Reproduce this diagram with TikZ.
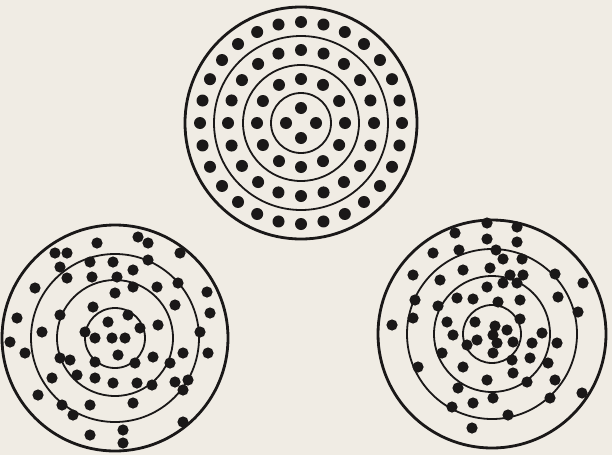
\documentclass[tikz,border=0pt]{standalone}
\usepackage{xcolor}
\usepackage{tikz}
\definecolor{paper}{HTML}{F0ECE4}
\definecolor{ink}{HTML}{1A1818}

\begin{document}
\begin{tikzpicture}[x=1pt, y=-1pt,
    ring/.style={draw=ink, line width=1.8pt},
    rim/.style={draw=ink, line width=2.8pt},
    hit/.style={fill=ink}]
    \fill[paper] (0,0) rectangle (612,455);

    % regular pattern
    \coordinate (top) at (301,123);
    \foreach \r in {30,58,87}
      \draw[ring] (top) circle (\r pt);
    \draw[rim] (top) circle (116pt);
    \foreach \n/\d in {4/15, 12/44, 20/73, 28/101}
      \foreach \i in {1,...,\n}
        \fill[hit, shift={(top)}] (90+\i*360/\n:\d) circle (6pt);

    % scattered pattern, left
    \coordinate (left) at (115,338);
    \foreach \r in {30,58,84}
      \draw[ring] (left) circle (\r pt);
    \draw[rim] (left) circle (113pt);
    \foreach \x/\y in {97/243, 138/237, 148/243, 180/253, 55/253, 67/253, 60/267,
        67/278, 90/262, 113/262, 133/270, 148/260, 92/277, 117/277, 133/287,
        157/287, 178/283, 207/292, 115/293, 93/307, 175/305, 210/313, 35/288,
        17/318, 10/342, 25/353, 42/332, 60/315, 128/315, 108/322, 85/332,
        95/338, 112/338, 125/338, 140/328, 158/325, 200/332, 118/355, 95/362,
        135/363, 153/357, 183/353, 208/353, 170/363, 60/358, 70/360, 52/378,
        77/375, 95/378, 113/383, 137/383, 152/385, 175/382, 188/380, 183/390,
        38/395, 62/405, 73/415, 90/405, 133/403, 183/422, 90/435, 123/430,
        123/443}
      \fill[hit] (\x,\y) circle (5.6pt);

    % scattered pattern, right
    \coordinate (right) at (492,334);
    \foreach \r in {29,58,85}
      \draw[ring] (right) circle (\r pt);
    \draw[rim] (right) circle (114pt);
    \foreach \x/\y in {487/223, 517/227, 455/233, 487/239, 517/242, 433/253,
        459/250, 496/250, 503/259, 522/259, 413/275, 440/280, 463/270, 490/268,
        510/275, 523/275, 503/283, 517/283, 555/274, 583/283, 487/287, 415/300,
        438/306, 457/298, 473/299, 498/302, 520/300, 558/297, 578/312, 392/325,
        413/318, 447/322, 475/322, 495/326, 507/330, 520/319, 493/335, 453/335,
        467/345, 477/340, 497/343, 513/342, 542/333, 532/343, 557/343, 442/353,
        493/353, 512/360, 530/358, 548/363, 418/367, 463/367, 513/373, 487/380,
        527/382, 555/380, 458/388, 493/398, 550/398, 582/393, 452/407, 473/403,
        508/415, 472/428}
      \fill[hit] (\x,\y) circle (5.6pt);
\end{tikzpicture}
\end{document}
